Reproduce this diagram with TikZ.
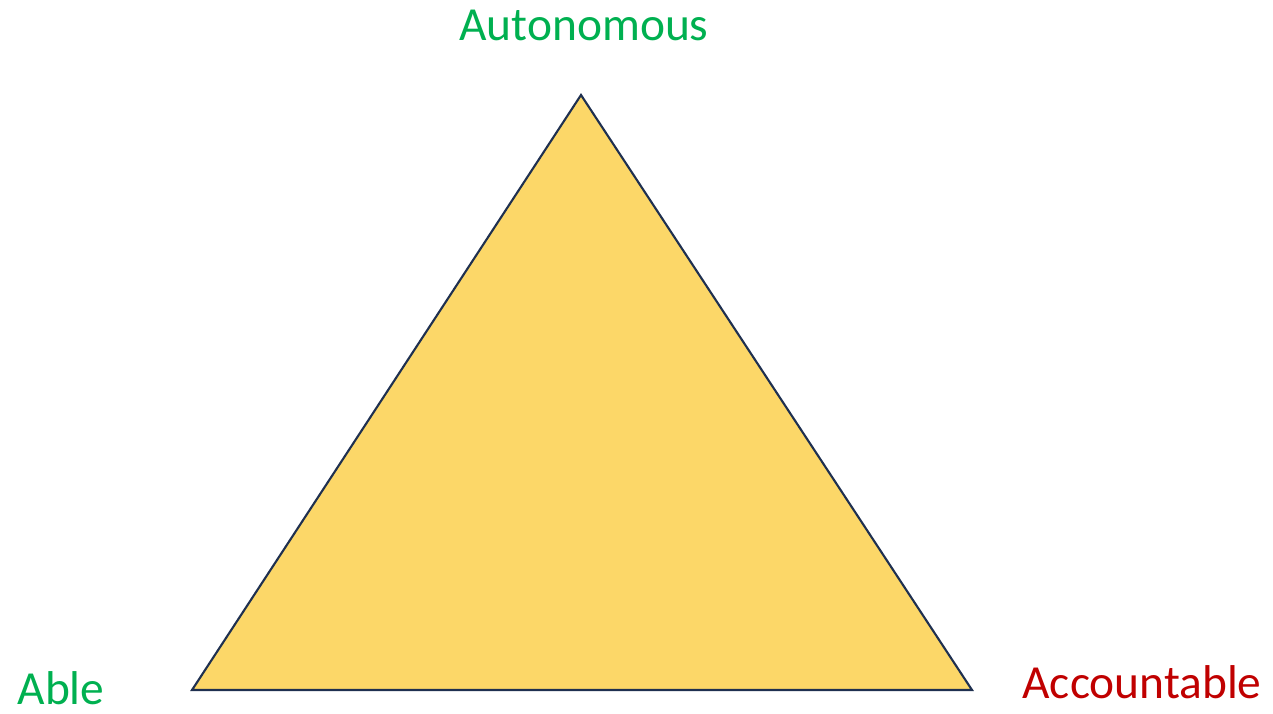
\documentclass[tikz,border=0pt]{standalone}
\usepackage{fontspec}
\setmainfont{Carlito}
\definecolor{triFill}{HTML}{FCD768}
\definecolor{triLine}{HTML}{1F3050}
\definecolor{labGreen}{HTML}{00B050}
\definecolor{labRed}{HTML}{C00000}
\begin{document}
\begin{tikzpicture}[x=0.02cm,y=-0.02cm,
  lab/.style={font=\fontsize{27}{32}\selectfont, inner sep=0pt, anchor=base}]
\useasboundingbox (0,0) rectangle (1273,713);
\coordinate (top) at (581,95);
\coordinate (bl) at (192,690);
\coordinate (br) at (972,690);
\draw[triLine, line width=1.2pt, fill=triFill, line join=miter] (top) -- (bl) -- (br) -- cycle;
\node[lab, text=labGreen] (auto) at (584,41) {Autonomous};
\node[lab, text=labGreen] (able) at (61,704) {Able};
\node[lab, text=labRed] (acc) at (1142,698) {Accountable};
\end{tikzpicture}
\end{document}
